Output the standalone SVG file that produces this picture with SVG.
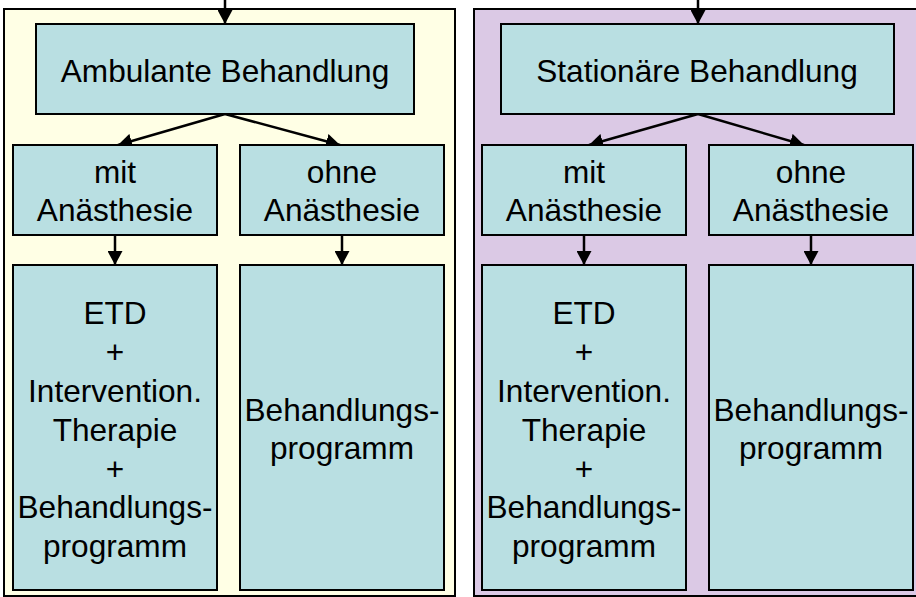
<svg xmlns="http://www.w3.org/2000/svg" width="916" height="597" viewBox="0 0 916 597">
<defs>
<style>
.box{fill:#B9DFE2;stroke:#000;stroke-width:2}
.t{font-family:"Liberation Sans",Arial,sans-serif;font-size:31.6px;fill:#000;text-anchor:middle}
.c{stroke:#000;stroke-width:2.5;fill:none;marker-end:url(#ah)}
</style>
<marker id="ah" markerUnits="userSpaceOnUse" markerWidth="15" markerHeight="15" refX="14" refY="7.5" orient="auto" viewBox="0 0 15 15">
<path d="M0,0 L14,7.5 L0,15 z" fill="#000"/>
</marker>
</defs>
<rect width="916" height="597" fill="#fff"/>
<g id="panel-ambulant">
<rect x="4" y="9" width="451" height="587" fill="#FFFFE5" stroke="#000" stroke-width="2"/>
</g>
<g id="panel-stationaer">
<rect x="474" y="9" width="446" height="587" fill="#DBC9E5" stroke="#000" stroke-width="2"/>
</g>
<g id="connectors">
<line class="c" x1="225" y1="0" x2="225" y2="24"/>
<line class="c" x1="225" y1="114" x2="118" y2="145"/>
<line class="c" x1="225" y1="114" x2="340" y2="145"/>
<line class="c" x1="115" y1="235" x2="115" y2="265"/>
<line class="c" x1="342" y1="235" x2="342" y2="265"/>
<line class="c" x1="698" y1="0" x2="698" y2="24"/>
<line class="c" x1="698" y1="114" x2="589" y2="145"/>
<line class="c" x1="698" y1="114" x2="804" y2="145"/>
<line class="c" x1="584" y1="235" x2="584" y2="265"/>
<line class="c" x1="811" y1="235" x2="811" y2="265"/>
</g>
<g id="amb-main">
<rect class="box" x="36" y="24" width="378" height="90"/>
<text class="t" x="225" y="82">Ambulante Behandlung</text>
</g>
<g id="amb-mit">
<rect class="box" x="13" y="145" width="204" height="90"/>
<text class="t" x="115" y="183">mit</text>
<text class="t" x="115" y="221">Anästhesie</text>
</g>
<g id="amb-ohne">
<rect class="box" x="240" y="145" width="204" height="90"/>
<text class="t" x="342" y="183">ohne</text>
<text class="t" x="342" y="221">Anästhesie</text>
</g>
<g id="amb-mit-prog">
<rect class="box" x="13" y="265" width="204" height="325"/>
<text class="t" x="115" y="324">ETD</text>
<text class="t" x="115" y="363">+</text>
<text class="t" x="115" y="402">Intervention.</text>
<text class="t" x="115" y="441">Therapie</text>
<text class="t" x="115" y="480">+</text>
<text class="t" x="115" y="518">Behandlungs-</text>
<text class="t" x="115" y="557">programm</text>
</g>
<g id="amb-ohne-prog">
<rect class="box" x="240" y="265" width="204" height="325"/>
<text class="t" x="342" y="421">Behandlungs-</text>
<text class="t" x="342" y="459">programm</text>
</g>
<g id="stat-main">
<rect class="box" x="501" y="24" width="393" height="90"/>
<text class="t" x="697" y="82">Stationäre Behandlung</text>
</g>
<g id="stat-mit">
<rect class="box" x="482" y="145" width="204" height="90"/>
<text class="t" x="584" y="183">mit</text>
<text class="t" x="584" y="221">Anästhesie</text>
</g>
<g id="stat-ohne">
<rect class="box" x="709" y="145" width="204" height="90"/>
<text class="t" x="811" y="183">ohne</text>
<text class="t" x="811" y="221">Anästhesie</text>
</g>
<g id="stat-mit-prog">
<rect class="box" x="482" y="265" width="204" height="325"/>
<text class="t" x="584" y="324">ETD</text>
<text class="t" x="584" y="363">+</text>
<text class="t" x="584" y="402">Intervention.</text>
<text class="t" x="584" y="441">Therapie</text>
<text class="t" x="584" y="480">+</text>
<text class="t" x="584" y="518">Behandlungs-</text>
<text class="t" x="584" y="557">programm</text>
</g>
<g id="stat-ohne-prog">
<rect class="box" x="709" y="265" width="204" height="325"/>
<text class="t" x="811" y="421">Behandlungs-</text>
<text class="t" x="811" y="459">programm</text>
</g>
</svg>
